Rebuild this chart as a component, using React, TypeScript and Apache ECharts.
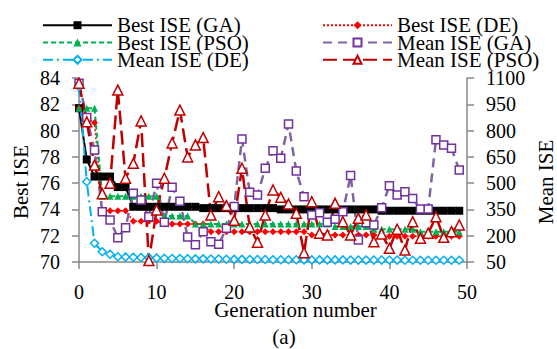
import React, { useEffect, useRef } from "react";
import * as echarts from "echarts";

const generations = [
  0, 1, 2, 3, 4, 5, 6, 7, 8, 9, 10, 11, 12, 13, 14, 15, 16, 17, 18, 19, 20, 21, 22, 23, 24,
  25, 26, 27, 28, 29, 30, 31, 32, 33, 34, 35, 36, 37, 38, 39, 40, 41, 42, 43, 44, 45, 46, 47, 48, 49,
];

const bestGA = [
  81.7, 77.8, 76.5, 76.5, 76.5, 75.7, 75.7,
  74.2, 74.2, 74.2, 74.2, 74.2, 74.2, 74.2, 74.2, 74.2,
  74.1, 74.1, 74.1, 74.1, 74.1, 74.1, 74.1, 74.1, 74.1, 74.1,
  74.0, 74.0, 74.0, 74.0, 74.0, 74.0, 74.0, 74.0, 74.0, 74.0, 74.0, 74.0, 74.0,
  73.9, 73.9, 73.9, 73.9, 73.9, 73.9, 73.9, 73.9, 73.9, 73.9, 73.9,
];

const bestDE = [
  81.7, 81.0, 80.6,
  73.9, 73.9, 73.9, 73.9,
  73.1, 73.1, 73.1, 73.1,
  72.9, 72.9, 72.9, 72.9, 72.9, 72.9,
  72.3, 72.3, 72.3, 72.3, 72.3, 72.3, 72.3, 72.3, 72.3, 72.3, 72.3, 72.3, 72.3,
  72.05, 72.05, 72.05, 72.05, 72.05, 72.05, 72.05, 72.05, 72.05, 72.05,
  71.95, 71.95, 71.95, 71.95, 71.95, 71.95, 71.95, 71.95, 71.95, 71.95,
];

const bestPSO = [
  81.7, 81.7, 81.7,
  75.0, 75.0, 75.0, 75.0, 75.0, 75.0, 75.0, 75.0,
  73.5, 73.5, 73.5, 73.5,
  72.9, 72.9, 72.9, 72.9, 72.9, 72.9, 72.9, 72.9, 72.9, 72.9, 72.9, 72.9, 72.9, 72.9, 72.9, 72.9, 72.9, 72.9,
  72.7, 72.7, 72.7, 72.7, 72.7,
  72.5, 72.5, 72.5, 72.5, 72.5, 72.5,
  72.3, 72.3, 72.3, 72.3, 72.3, 72.3,
];

const meanGA = [
  1070, 875, 689, 337, 290, 189, 246, 443, 404, 308, 499, 277, 476, 396, 192, 149, 223, 166, 151, 242,
  366, 752, 448, 432, 585, 685, 642, 838, 569, 423, 318, 331, 277, 294, 337, 543, 176, 274, 261, 360,
  485, 432, 451, 413, 352, 352, 748, 718, 699, 575,
];

const meanDE = [
  1050, 508, 157, 109, 94, 80, 78, 77, 76, 75, 72, 71, 70, 70, 69, 68, 68, 67, 67, 66,
  65, 65, 64, 64, 64, 63, 63, 63, 63, 62, 62, 62, 62, 62, 62, 61, 61, 61, 61, 61,
  61, 61, 60, 60, 60, 60, 60, 60, 60, 60,
];

const meanPSO = [
  1070, 850, 603, 440, 500, 1031, 528, 613, 855, 58, 347, 528, 729, 917, 649, 718, 760, 318, 423, 372,
  288, 585, 250, 163, 318, 461, 419, 381, 328, 103, 394, 214, 204, 385, 280, 204, 299, 318, 166, 210,
  128, 237, 118, 280, 185, 214, 308, 191, 223, 261,
];

const rightTicks = [50, 200, 350, 500, 650, 800, 950, 1100];

const FONT = "Liberation Serif";

export default function App() {
  const ref = useRef<HTMLDivElement>(null);
  useEffect(() => {
    const chart = echarts.init(ref.current!, null, { renderer: "svg" });
    const pair = (vals: number[]) => generations.map((g, i) => [g, vals[i]]);
    const axisColor = "#888888";
    const labelStyle = { fontFamily: FONT, fontSize: 20, color: "#000", lineHeight: 16 };
    const legendBase = {
      top: 9.7,
      orient: "vertical",
      itemWidth: 69,
      itemHeight: 10,
      itemGap: -3.7,
      selectedMode: false,
      textStyle: { fontFamily: FONT, fontSize: 21, color: "#000", lineHeight: 18 },
    };
    const titleText = (text: string, x: number, y: number, rotation = 0) => ({
      type: "text",
      x,
      y,
      rotation,
      style: {
        text,
        font: `21px "${FONT}"`,
        lineHeight: 18,
        fill: "#000",
        textAlign: "center",
        textVerticalAlign: "middle",
        verticalAlign: "middle",
      },
    });
    chart.setOption({
      animation: false,
      backgroundColor: "#fff",
      grid: { left: 79, right: 90, top: 78, bottom: 87 },
      legend: [
        { ...legendBase, left: 37, data: ["Best ISE (GA)", "Best ISE (PSO)", "Mean ISE (DE)"] },
        { ...legendBase, left: 317, data: ["Best ISE (DE)", "Mean ISE (GA)", "Mean ISE (PSO)"] },
      ],
      xAxis: {
        type: "value",
        min: 0,
        max: 50,
        interval: 10,
        splitLine: { show: false },
        axisLine: { show: true, lineStyle: { color: axisColor, width: 1.5 } },
        axisTick: { show: true, length: 7, lineStyle: { color: axisColor, width: 1.5 } },
        axisLabel: { ...labelStyle, margin: 22 },
      },
      yAxis: [
        {
          type: "value",
          min: 70,
          max: 84,
          interval: 2,
          splitLine: { show: false },
          axisLine: { show: true, lineStyle: { color: axisColor, width: 1.5 } },
          axisTick: { show: true, length: 7, lineStyle: { color: axisColor, width: 1.5 } },
          axisLabel: { ...labelStyle, margin: 19 },
        },
        {
          type: "value",
          position: "right",
          min: 50,
          max: 1100,
          splitLine: { show: false },
          axisLine: { show: true, lineStyle: { color: axisColor, width: 1.5 } },
          axisTick: {
            show: true,
            length: 7,
            customValues: rightTicks,
            lineStyle: { color: axisColor, width: 1.5 },
          },
          axisLabel: {
            ...labelStyle,
            margin: 19,
            customValues: rightTicks,
            formatter: (v: number) => String(v),
          },
        },
      ],
      graphic: [
        titleText("Generation number", 295.5, 310),
        titleText("(a)", 284, 337),
        titleText("Best ISE", 21, 182, Math.PI / 2),
        titleText("Mean ISE", 545.5, 182, Math.PI / 2),
      ],
      series: [
        {
          name: "Best ISE (GA)",
          type: "line",
          yAxisIndex: 0,
          data: pair(bestGA),
          symbol: "rect",
          symbolSize: 8,
          showAllSymbol: true,
          lineStyle: { color: "#000", width: 2 },
          itemStyle: { color: "#000" },
        },
        {
          name: "Best ISE (DE)",
          type: "line",
          yAxisIndex: 0,
          data: pair(bestDE),
          symbol: "diamond",
          symbolSize: 7,
          showAllSymbol: true,
          lineStyle: { color: "#ff0000", width: 1.5, type: [2, 2] },
          itemStyle: { color: "#ff0000" },
        },
        {
          name: "Best ISE (PSO)",
          type: "line",
          yAxisIndex: 0,
          data: pair(bestPSO),
          symbol: "triangle",
          symbolSize: 7,
          showAllSymbol: true,
          lineStyle: { color: "#00b050", width: 2, type: [5, 3] },
          itemStyle: { color: "#00b050" },
        },
        {
          name: "Mean ISE (GA)",
          type: "line",
          yAxisIndex: 1,
          data: pair(meanGA),
          symbol: "rect",
          symbolSize: 8,
          showAllSymbol: true,
          lineStyle: { color: "#8064a2", width: 2.5, type: [9, 6] },
          itemStyle: { color: "#fff", borderColor: "#7030a0", borderWidth: 1.5 },
        },
        {
          name: "Mean ISE (DE)",
          type: "line",
          yAxisIndex: 1,
          data: pair(meanDE),
          symbol: "diamond",
          symbolSize: 8,
          showAllSymbol: true,
          lineStyle: { color: "#00b0f0", width: 2, type: [10, 4, 2, 4] },
          itemStyle: { color: "#fff", borderColor: "#00b0f0", borderWidth: 1.5 },
        },
        {
          name: "Mean ISE (PSO)",
          type: "line",
          yAxisIndex: 1,
          data: pair(meanPSO),
          symbol: "triangle",
          symbolSize: 10,
          showAllSymbol: true,
          lineStyle: { color: "#c00000", width: 2.5, type: [14, 6] },
          itemStyle: { color: "#fff", borderColor: "#c00000", borderWidth: 1.5 },
        },
      ],
    });
    return () => chart.dispose();
  }, []);
  return (
    <div
      ref={ref}
      style={{ position: "fixed", left: 0, top: 0, width: 557, height: 349 }}
    />
  );
}
